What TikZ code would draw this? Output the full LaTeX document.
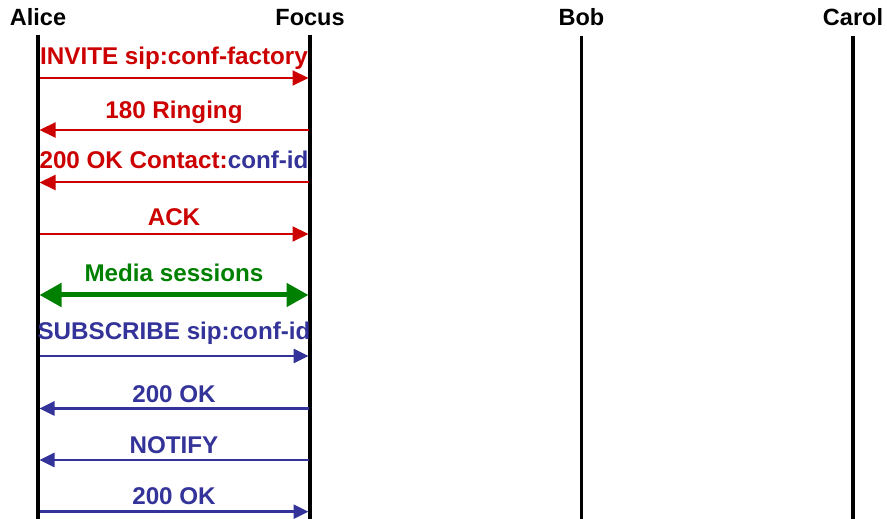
\documentclass[tikz,border=0pt]{standalone}
\usepackage{fontspec}
\setmainfont{Liberation Sans}
\usetikzlibrary{arrows.meta}
\definecolor{msgred}{RGB}{204,0,0}
\definecolor{msgblue}{RGB}{51,51,153}
\definecolor{msggreen}{RGB}{0,128,0}
\begin{document}
\begin{tikzpicture}[x=1pt,y=1pt,
  lbl/.style={font=\fontsize{24.2}{26}\selectfont\bfseries, anchor=base, inner sep=0pt},
  head/.style={font=\fontsize{23.5}{26}\selectfont\bfseries, anchor=base, inner sep=0pt, text=black},
  life/.style={line width=3.2pt, black},
  redmsg/.style={line width=2pt, msgred, -{Triangle[length=16pt,width=15pt]}},
  bluemsg/.style={line width=2.6pt, msgblue, -{Triangle[length=15pt,width=14pt]}},
  greenmsg/.style={line width=5pt, msggreen, {Triangle[length=22pt,width=23pt]}-{Triangle[length=22pt,width=23pt]}},
  redlbl/.style={lbl, text=msgred},
  bluelbl/.style={lbl, text=msgblue},
  greenlbl/.style={lbl, text=msggreen}]
\useasboundingbox (0,0) rectangle (887,519);

% headers
\node[head] (alice) at (38,493) {Alice};
\node[head] (focus) at (310,493) {Focus};
\node[head] (bob)   at (581.5,493) {Bob};
\node[head] (carol) at (853,493) {Carol};

% lifelines
\coordinate (aT) at (38,484);   \coordinate (aB) at (38,0);
\coordinate (fT) at (310,484);  \coordinate (fB) at (310,0);
\coordinate (bT) at (581.5,483); \coordinate (bB) at (581.5,0);
\coordinate (cT) at (853,483);  \coordinate (cB) at (853,0);
\draw[life] (aT) -- (aB);
\draw[life] (fT) -- (fB);
\draw[life] (bT) -- (bB);
\draw[life] (cT) -- (cB);

% message endpoints (left edge / right edge of lifelines)
\foreach \n/\y in {1/441,2/389,3/336.5,4/285,5/224,6/163,7/110.5,8/59,9/7.3}{
  \coordinate (a\n) at (39.5,\y);
  \coordinate (f\n) at (308.5,\y);
}

% messages
\draw[redmsg] (a1) -- (f1);
\node[redlbl] (l1) at (174,454) {INVITE sip:conf-factory};

\draw[redmsg] (f2) -- (a2);
\node[redlbl] (l2) at (174,400.7) {180 Ringing};

\draw[redmsg] (f3) -- (a3);
\node[redlbl] (l3) at (174,350.7) {200 OK Contact:\textcolor{msgblue}{conf-id}};

\draw[redmsg] (a4) -- (f4);
\node[redlbl] (l4) at (174,293.3) {ACK};

\draw[greenmsg] (a5) -- (f5);
\node[greenlbl] (l5) at (174,237.3) {Media sessions};

\draw[bluemsg] (a6) -- (f6);
\node[bluelbl] (l6) at (174,179.7) {SUBSCRIBE sip:conf-id};

\draw[bluemsg] (f7) -- (a7);
\node[bluelbl] (l7) at (174,116.7) {200 OK};

\draw[bluemsg] (f8) -- (a8);
\node[bluelbl] (l8) at (174,65.7) {NOTIFY};

\draw[bluemsg] (a9) -- (f9);
\node[bluelbl] (l9) at (174,14) {200 OK};
\end{tikzpicture}
\end{document}
